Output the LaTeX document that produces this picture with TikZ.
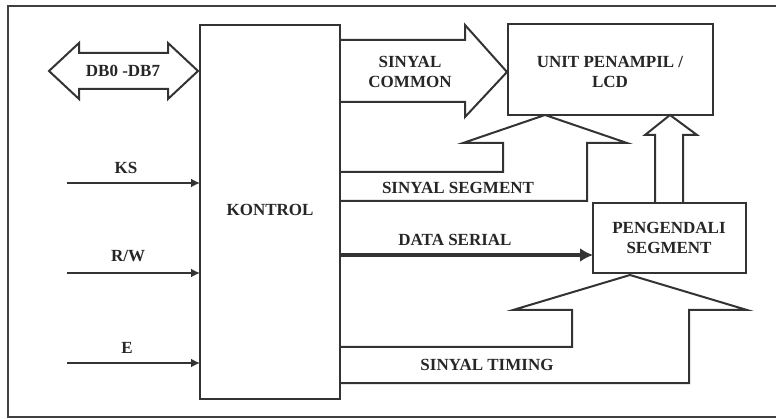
\documentclass[tikz,border=0pt]{standalone}
\usepackage{fontspec}
\setmainfont{Liberation Serif}
\usetikzlibrary{arrows.meta}
\begin{document}
\begin{tikzpicture}[x=1pt,y=-1pt,line join=miter,
  box/.style={draw=black!80,line width=2pt,fill=white},
  lbl/.style={font=\bfseries\fontsize{17}{20}\selectfont,text=black!85,align=center,inner sep=0pt},
  outl/.style={draw=black!80,line width=2pt},
  sig/.style={draw=black!80,line width=2.2pt,-{Latex[length=9pt,width=9pt]}}]
\useasboundingbox (0,0) rectangle (776,419);
% frame
\draw[black!75,line width=1.3pt] (776,6) -- (8,6) -- (8,417) -- (776,417);
% boxes
\draw[box] (200,25) rectangle (340,399);
\node[lbl] (kontrol) at (270,210) {KONTROL};
\draw[box] (508,24) rectangle (713,115);
\node[lbl] (lcd) at (610,72) {UNIT PENAMPIL /\\LCD};
\draw[box] (593,203) rectangle (746,273);
\node[lbl] (peng) at (669,238) {PENGENDALI\\SEGMENT};
% DB0-DB7 double arrow
\draw[outl] (49,71) -- (79,43) -- (79,53) -- (168,53) -- (168,43) -- (198,71) -- (168,99) -- (168,89) -- (79,89) -- (79,99) -- cycle;
\node[lbl] (db) at (123,71) {DB0 -DB7};
% inputs
\coordinate (ks0) at (67,183);
\coordinate (ks1) at (200,183);
\coordinate (rw0) at (67,273);
\coordinate (rw1) at (200,273);
\coordinate (e0) at (67,363);
\coordinate (e1) at (200,363);
\draw[sig] (ks0) -- (ks1);
\draw[sig] (rw0) -- (rw1);
\draw[sig] (e0) -- (e1);
\node[lbl] (kslbl) at (126,168) {KS};
\node[lbl] (rwlbl) at (128,256) {R/W};
\node[lbl] (elbl) at (127,348) {E};
% SINYAL COMMON block arrow
\draw[outl] (340,40) -- (465,40) -- (465,25) -- (507,72) -- (465,117) -- (465,102) -- (340,102);
\node[lbl] (common) at (410,72) {SINYAL\\COMMON};
% SINYAL SEGMENT
\draw[outl] (340,172) -- (503,172) -- (503,143) -- (463,143) -- (545,115) -- (627,143) -- (587,143) -- (587,201) -- (340,201);
\node[lbl] (seg) at (458,188) {SINYAL SEGMENT};
% up arrow from PENGENDALI to LCD
\draw[outl] (655,203) -- (655,135) -- (645,135) -- (670,115) -- (697,135) -- (683,135) -- (683,203);
% DATA SERIAL
\coordinate (ds0) at (340,255);
\coordinate (ds1) at (593,255);
\draw[draw=black!80,line width=4.5pt,-{Latex[length=13pt,width=14pt]}] (ds0) -- (ds1);
\node[lbl] (data) at (455,240) {DATA SERIAL};
% SINYAL TIMING
\draw[outl] (340,347) -- (572,347) -- (572,310) -- (513,310) -- (630,275) -- (747,310) -- (689,310) -- (689,383) -- (340,383);
\node[lbl] (timing) at (487,365) {SINYAL TIMING};
\end{tikzpicture}
\end{document}
